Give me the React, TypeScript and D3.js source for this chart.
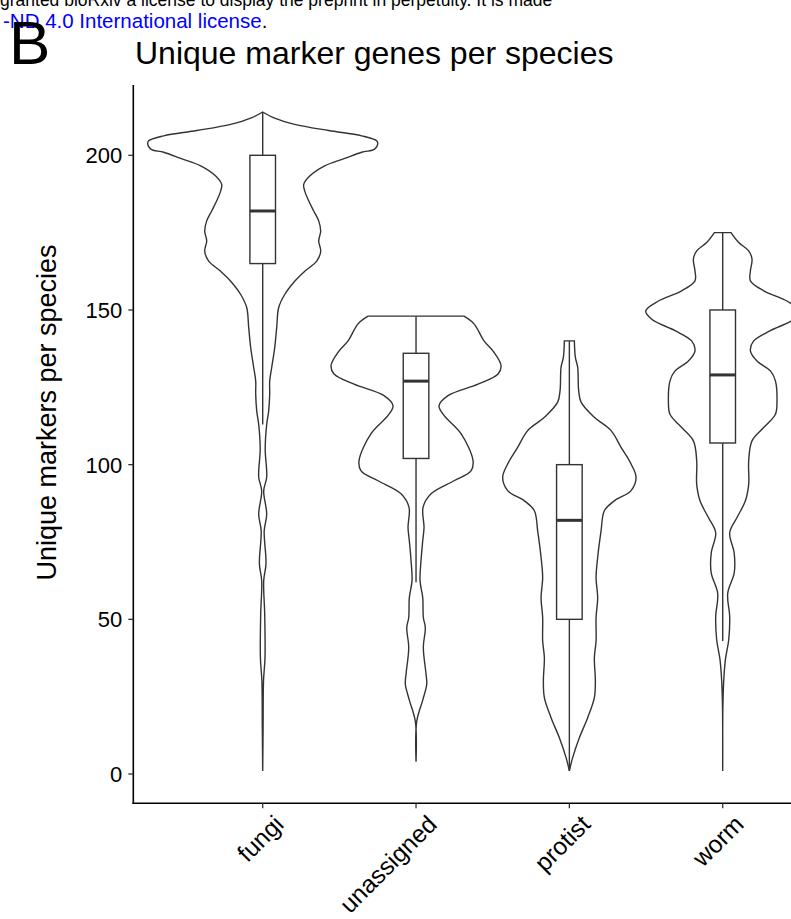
import React from "react";
import * as d3 from "d3";

// Categories along the x axis and y-axis ticks
const categories = ["fungi", "unassigned", "protist", "worm"];
const yTicks = [0, 50, 100, 150, 200];

// Violin outlines: [unique markers, relative density] from top to bottom
const fungiDensity: [number, number][] = [
  [214, 0], [212, 0.12], [210, 0.32], [208, 0.66], [206.3, 0.99], [204.7, 1.14],
  [203.6, 1.15], [202, 1.12], [201, 0.99], [199, 0.82], [196.6, 0.62], [193.3, 0.47],
  [190.6, 0.41], [188.5, 0.42], [185.3, 0.46], [182, 0.51], [178.8, 0.56], [175.5, 0.58],
  [172.3, 0.56], [169, 0.58], [165.8, 0.54], [162.5, 0.42], [159.3, 0.32], [155, 0.22],
  [150.8, 0.16], [144.3, 0.14], [137.8, 0.12], [131.4, 0.09], [127, 0.07], [122.8, 0.07],
  [117.4, 0.06], [113, 0.04], [105, 0.025], [96, 0.04], [91.5, 0.01], [84, 0.04],
  [78.6, 0.015], [68, 0.033], [62.4, 0.01], [51.7, 0.02], [37.6, 0.023], [30, 0.008],
  [15, 0.004], [1, 0],
];

const unassignedDensity: [number, number][] = [
  [148, 0.48], [145.5, 0.58], [140, 0.68], [136.3, 0.78], [132, 0.85], [129.3, 0.82],
  [126, 0.62], [122.3, 0.32], [119, 0.23], [115.9, 0.28], [110, 0.45], [101.3, 0.57],
  [98, 0.55], [94.8, 0.38], [90.6, 0.15], [86.2, 0.07], [79.7, 0.08], [75.4, 0.067],
  [69, 0.05], [62.5, 0.04], [57, 0.067], [50.6, 0.073], [47.3, 0.093], [40.9, 0.073],
  [32.3, 0.1], [29, 0.107], [23.9, 0.067], [17, 0.007], [4, 0],
];

const protistDensity: [number, number][] = [
  [140, 0.05], [134.7, 0.06], [131.5, 0.083], [124, 0.093], [120.2, 0.117], [115.3, 0.25],
  [111, 0.417], [105.6, 0.517], [100.2, 0.617], [95.9, 0.667], [91.6, 0.617], [88.3, 0.45],
  [85.1, 0.35], [78.6, 0.317], [70, 0.283], [63.5, 0.267], [57, 0.283], [50.6, 0.267],
  [43, 0.267], [37.6, 0.25], [30, 0.26], [24.7, 0.25], [18.2, 0.183], [11.7, 0.1],
  [5.3, 0.033], [1, 0],
];

const wormDensity: [number, number][] = [
  [175, 0.083], [171.8, 0.16], [169.1, 0.26], [166.4, 0.293], [162.6, 0.277], [159.4, 0.277],
  [156.2, 0.41], [152.9, 0.643], [149.7, 0.77], [147, 0.71], [143.3, 0.477], [140, 0.31],
  [136.8, 0.277], [133.5, 0.343], [130.3, 0.477], [127.1, 0.527], [120.6, 0.543], [116.3, 0.527],
  [112, 0.41], [107.7, 0.293], [101.2, 0.26], [93.7, 0.26], [88.3, 0.227], [82.9, 0.143],
  [78, 0.07], [71.4, 0.115], [65, 0.115], [58.4, 0.05], [50.8, 0.07], [43.3, 0.06],
  [37, 0.027], [30, 0.01], [21.8, 0.002], [1, 0],
];

const densities = [fungiDensity, unassignedDensity, protistDensity, wormDensity];

// Box plot statistics per category
const whiskerLow = [113, 62, 1, 43];
const quartile1 = [165, 102, 50, 107];
const medians = [182, 127, 82, 129];
const quartile3 = [200, 136, 100, 150];
const whiskerHigh = [214, 148, 140, 175];

const WIDTH = 791;
const HEIGHT = 919;
const FONT = "'Liberation Sans', Arial, Helvetica, sans-serif";
const INK = "#333333";

export default function App() {
  const x = d3.scalePoint<string>().domain(categories).range([262.7, 722.7]);
  const y = d3.scaleLinear().domain([0, 200]).range([774, 155.3]);
  const w = d3.scaleLinear().domain([0, 1]).range([0, 100]);

  const axisLeft = 133.3;
  const axisBottom = 803.3;
  const boxHalf = 12.8;

  return (
    <svg
      width={WIDTH}
      height={HEIGHT}
      style={{ position: "absolute", left: 0, top: 0, background: "#fff" }}
      fontFamily={FONT}
    >
      <rect x={0} y={0} width={WIDTH} height={HEIGHT} fill="#fff" />

      {/* license header */}
      <text x={0} y={6} fontSize={17.5} fill="#000">
        granted bioRxiv a license to display the preprint in perpetuity. It is made
      </text>
      <text x={3} y={28.3} fontSize={20.5}>
        <tspan fill="#0000ff">-ND 4.0 International license</tspan>
        <tspan fill="#000">.</tspan>
      </text>

      {/* panel tag and title */}
      <text x={9} y={63.5} fontSize={62} fill="#000">B</text>
      <text x={135} y={64} fontSize={32} fill="#000">Unique marker genes per species</text>

      {/* violins */}
      {categories.map((c, i) => {
        const cx = x(c)!;
        const area = d3
          .area<[number, number]>()
          .x0((d) => cx - w(d[1]))
          .x1((d) => cx + w(d[1]))
          .y((d) => y(d[0]))
          .curve(d3.curveCatmullRom);
        return (
          <path
            key={`v-${c}`}
            d={area(densities[i]) ?? ""}
            fill="#fff"
            stroke={INK}
            strokeWidth={1.4}
          />
        );
      })}

      {/* box plots */}
      {categories.map((c, i) => {
        const cx = x(c)!;
        return (
          <g key={`b-${c}`} stroke={INK} strokeWidth={1.4}>
            <line x1={cx} x2={cx} y1={y(quartile3[i])} y2={y(whiskerHigh[i])} />
            <line x1={cx} x2={cx} y1={y(quartile1[i])} y2={y(whiskerLow[i])} />
            <rect
              x={cx - boxHalf}
              y={y(quartile3[i])}
              width={boxHalf * 2}
              height={y(quartile1[i]) - y(quartile3[i])}
              fill="#fff"
            />
            <line
              x1={cx - boxHalf}
              x2={cx + boxHalf}
              y1={y(medians[i])}
              y2={y(medians[i])}
              strokeWidth={3}
            />
          </g>
        );
      })}

      {/* y axis */}
      <line x1={axisLeft} x2={axisLeft} y1={85} y2={axisBottom + 0.8} stroke="#000" strokeWidth={1.6} />
      {yTicks.map((t) => (
        <g key={`yt-${t}`}>
          <line x1={axisLeft - 5} x2={axisLeft} y1={y(t)} y2={y(t)} stroke={INK} strokeWidth={1.3} />
          <text x={axisLeft - 11} y={y(t)} dy="0.36em" textAnchor="end" fontSize={22} fill="#000">
            {t}
          </text>
        </g>
      ))}
      <text
        transform={`translate(56, ${(245 + 580) / 2}) rotate(-90)`}
        textAnchor="middle"
        fontSize={27}
        fill="#000"
      >
        Unique markers per species
      </text>

      {/* x axis */}
      <line x1={axisLeft - 0.8} x2={WIDTH} y1={axisBottom} y2={axisBottom} stroke="#000" strokeWidth={1.6} />
      {categories.map((c) => {
        const cx = x(c)!;
        return (
          <g key={`xt-${c}`}>
            <line x1={cx} x2={cx} y1={axisBottom} y2={axisBottom + 5} stroke={INK} strokeWidth={1.3} />
            <text
              transform={`translate(${cx + 10}, ${axisBottom + 10}) rotate(-45)`}
              textAnchor="end"
              dy="0.72em"
              fontSize={24.5}
              fill="#000"
            >
              {c}
            </text>
          </g>
        );
      })}
    </svg>
  );
}
